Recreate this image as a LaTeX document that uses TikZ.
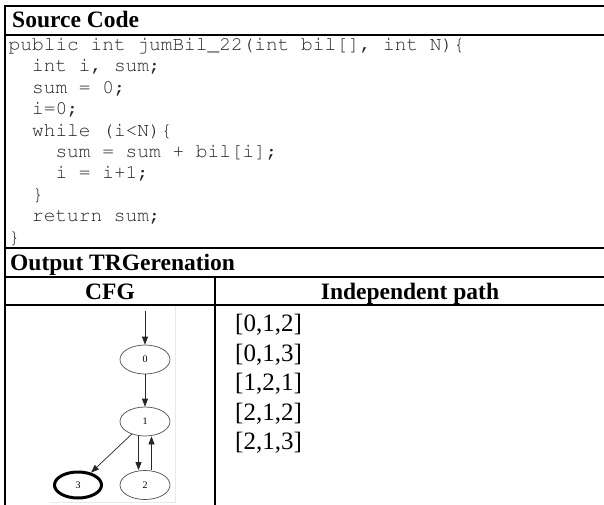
\documentclass[tikz,border=0pt]{standalone}
\usepackage[T1]{fontenc}
\usepackage{fontspec}
\setmainfont{Liberation Serif}
\setmonofont{Liberation Mono}
\usetikzlibrary{shapes.geometric,arrows.meta}
\definecolor{faint}{RGB}{228,234,240}
\newcommand{\courierfont}{\fontencoding{T1}\fontfamily{pcr}\fontseries{m}\fontshape{n}\fontsize{19.5}{21}\selectfont}
\begin{document}
\begin{tikzpicture}[x=1pt,y=-1pt,
 tline/.style={line width=2pt, line cap=rect},
 hdr/.style={font=\fontsize{23.5}{27}\selectfont\bfseries, inner sep=0, anchor=base west},
 code/.style={font=\courierfont, text=black!85, inner sep=0, anchor=base west},
 pathtxt/.style={font=\fontsize{25}{29}\selectfont, inner sep=0, anchor=base west},
 gnode/.style={ellipse, draw=black!70, line width=0.7pt, minimum width=50pt, minimum height=29pt, inner sep=0, font=\fontsize{10}{12}\selectfont},
 garr/.style={-{Triangle[length=8pt,width=6pt]}, line width=0.7pt, draw=black!85}
]
\useasboundingbox (0,0) rectangle (604,505);
% table rules
\draw[tline] (604,6) -- (5,6) -- (5,505);
\draw[tline] (5,35) -- (604,35);
\draw[tline] (5,248) -- (604,248);
\draw[tline] (5,277) -- (604,277);
\draw[tline] (5,305) -- (604,305);
\draw[tline] (215,277) -- (215,505);
% headers
\node[hdr] (hsrc) at (12,28) {Source Code};
\node[hdr] (hout) at (10,270.5) {Output TRGerenation};
\node[hdr, anchor=base] (hcfg) at (110,299) {CFG};
\node[hdr, anchor=base] (hind) at (410,299) {Independent path};
% code
\node[code] (c1) at (8.5,50.5) {public int jumBil\_22(int bil[], int N)\{};
\node[code] (c2) at (31.9,71.9) {int i, sum;};
\node[code] (c3) at (31.9,93.3) {sum = 0;};
\node[code] (c4) at (31.9,114.7) {i=0;};
\node[code] (c5) at (31.9,136.1) {while (i<N)\{};
\node[code] (c6) at (55.3,157.5) {sum = sum + bil[i];};
\node[code] (c7) at (55.3,178.9) {i = i+1;};
\node[code] (c8) at (31.9,200.3) {\}};
\node[code] (c9) at (31.9,221.7) {return sum;};
\node[code] (c10) at (8.5,243.1) {\}};
% independent paths
\node[pathtxt] (p1) at (235,331.5) {[0,1,2]};
\node[pathtxt] (p2) at (235,361) {[0,1,3]};
\node[pathtxt] (p3) at (235,390.5) {[1,2,1]};
\node[pathtxt] (p4) at (235,420) {[2,1,2]};
\node[pathtxt] (p5) at (235,449.5) {[2,1,3]};
% CFG image frame
\draw[faint, line width=0.8pt] (175,306) -- (175,502) -- (50,502);
% CFG
\coordinate (start) at (145,311);
\node[gnode] (n0) at (145,359.5) {0};
\node[gnode] (n1) at (145,421.5) {1};
\node[gnode] (n2) at (145,485) {2};
\node[gnode, line width=3pt, draw=black, minimum width=47pt, minimum height=26pt] (n3) at (78,485) {3};
\draw[garr] (start) -- (n0);
\draw[garr] (n0) -- (n1);
\draw[garr] (n1) -- (n3);
\draw[garr] ([xshift=-6.5pt]n1.south) -- ([xshift=-6.5pt]n2.north);
\draw[garr] ([xshift=6.5pt]n2.north) -- ([xshift=6.5pt]n1.south);
\end{tikzpicture}
\end{document}
